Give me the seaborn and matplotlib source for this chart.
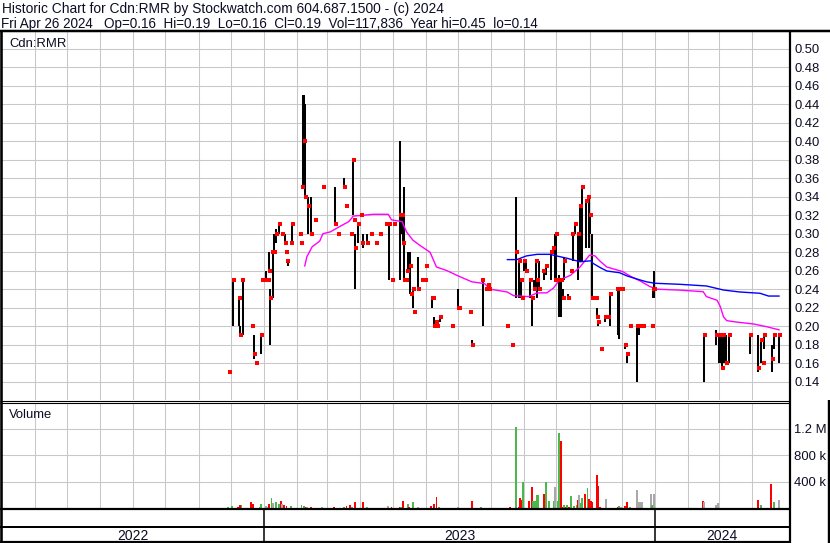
import numpy as np
import pandas as pd
import matplotlib
matplotlib.use("Agg")
import matplotlib.pyplot as plt
from matplotlib.lines import Line2D
import seaborn as sns

# ------------------------------------------------------------------ data
bar_dates = [
    "2022-11-29", "2022-12-03", "2022-12-09", "2022-12-10", "2022-12-12", "2022-12-21",
    "2022-12-23", "2022-12-25", "2022-12-29", "2022-12-30", "2023-01-03", "2023-01-05",
    "2023-01-06", "2023-01-07", "2023-01-09", "2023-01-10", "2023-01-12", "2023-01-15",
    "2023-01-18", "2023-01-21", "2023-01-22", "2023-01-23", "2023-01-26", "2023-01-27",
    "2023-02-04", "2023-02-05", "2023-02-06", "2023-02-07", "2023-02-08", "2023-02-11",
    "2023-02-14", "2023-02-18", "2023-02-25", "2023-03-08", "2023-03-11", "2023-03-17",
    "2023-03-19", "2023-03-23", "2023-03-25", "2023-03-26", "2023-03-27", "2023-03-30",
    "2023-04-02", "2023-04-03", "2023-04-07", "2023-04-11", "2023-04-16", "2023-04-19",
    "2023-04-25", "2023-04-28", "2023-05-01", "2023-05-02", "2023-05-08", "2023-05-10",
    "2023-05-11", "2023-05-12", "2023-05-14", "2023-05-15", "2023-05-17", "2023-05-18",
    "2023-05-20", "2023-05-21", "2023-05-25", "2023-05-29", "2023-05-31", "2023-06-01",
    "2023-06-07", "2023-06-08", "2023-06-09", "2023-06-11", "2023-06-12", "2023-06-14",
    "2023-06-26", "2023-07-01", "2023-07-02", "2023-07-12", "2023-07-14", "2023-07-24",
    "2023-07-27", "2023-07-29", "2023-07-30", "2023-08-16", "2023-08-21", "2023-08-24",
    "2023-08-27", "2023-08-29", "2023-08-30", "2023-09-01", "2023-09-03", "2023-09-06",
    "2023-09-08", "2023-09-10", "2023-09-12", "2023-09-13", "2023-09-15", "2023-09-19",
    "2023-09-21", "2023-09-26", "2023-09-28", "2023-09-30", "2023-10-01", "2023-10-03",
    "2023-10-05", "2023-10-07", "2023-10-08", "2023-10-12", "2023-10-15", "2023-10-16",
    "2023-10-18", "2023-10-21", "2023-10-23", "2023-10-25", "2023-10-29", "2023-10-31",
    "2023-11-01", "2023-11-03", "2023-11-07", "2023-11-08", "2023-11-09", "2023-11-12",
    "2023-11-15", "2023-11-16", "2023-11-18", "2023-11-20", "2023-11-27", "2023-11-28",
    "2023-11-29", "2023-12-01", "2023-12-04", "2023-12-06", "2023-12-09", "2023-12-15",
    "2023-12-17", "2023-12-19", "2023-12-21", "2023-12-29", "2023-12-30", "2023-12-31",
    "2024-02-16", "2024-02-27", "2024-03-01", "2024-03-03", "2024-03-04", "2024-03-05",
    "2024-03-07", "2024-03-10", "2024-03-30", "2024-04-06", "2024-04-09", "2024-04-11",
    "2024-04-12", "2024-04-19", "2024-04-21", "2024-04-26",
]
bar_high = [
    0.15, 0.25, 0.23, 0.20, 0.25, 0.20, 0.19, 0.16, 0.19, 0.25, 0.26, 0.25,
    0.28, 0.24, 0.28, 0.30, 0.305, 0.31, 0.30, 0.30, 0.28, 0.27, 0.29, 0.31,
    0.30, 0.29, 0.45, 0.45, 0.44, 0.34, 0.34, 0.315, 0.35, 0.35, 0.30, 0.36,
    0.33, 0.30, 0.38, 0.315, 0.30, 0.31, 0.32, 0.30, 0.30, 0.30, 0.29, 0.30,
    0.31, 0.31, 0.25, 0.31, 0.40, 0.32, 0.30, 0.35, 0.25, 0.28, 0.28, 0.235,
    0.24, 0.215, 0.275, 0.25, 0.25, 0.265, 0.23, 0.23, 0.21, 0.205, 0.20, 0.21,
    0.20, 0.24, 0.22, 0.215, 0.185, 0.25, 0.24, 0.245, 0.24, 0.20, 0.18, 0.34,
    0.27, 0.25, 0.23, 0.27, 0.27, 0.25, 0.23, 0.25, 0.27, 0.25, 0.27, 0.26,
    0.265, 0.28, 0.285, 0.30, 0.30, 0.255, 0.25, 0.24, 0.275, 0.235, 0.26, 0.30,
    0.31, 0.30, 0.33, 0.35, 0.335, 0.34, 0.32, 0.30, 0.23, 0.22, 0.205, 0.175,
    0.21, 0.21, 0.21, 0.235, 0.24, 0.24, 0.24, 0.24, 0.18, 0.17, 0.20, 0.20,
    0.20, 0.20, 0.20, 0.20, 0.24, 0.26, 0.19, 0.196, 0.19, 0.19, 0.19, 0.19,
    0.19, 0.19, 0.19, 0.19, 0.185, 0.16, 0.19, 0.18, 0.19, 0.19,
]
bar_low = [
    0.15, 0.20, 0.20, 0.19, 0.19, 0.20, 0.165, 0.16, 0.17, 0.25, 0.25, 0.25,
    0.26, 0.18, 0.23, 0.28, 0.29, 0.30, 0.30, 0.29, 0.28, 0.265, 0.29, 0.29,
    0.30, 0.29, 0.35, 0.39, 0.34, 0.30, 0.30, 0.315, 0.35, 0.31, 0.30, 0.35,
    0.33, 0.30, 0.32, 0.315, 0.24, 0.29, 0.32, 0.285, 0.29, 0.30, 0.29, 0.30,
    0.31, 0.25, 0.25, 0.31, 0.25, 0.30, 0.29, 0.25, 0.25, 0.26, 0.235, 0.235,
    0.22, 0.215, 0.24, 0.25, 0.25, 0.265, 0.22, 0.23, 0.20, 0.205, 0.20, 0.205,
    0.20, 0.22, 0.22, 0.215, 0.18, 0.20, 0.24, 0.245, 0.24, 0.20, 0.18, 0.23,
    0.23, 0.23, 0.23, 0.26, 0.26, 0.23, 0.20, 0.24, 0.24, 0.23, 0.24, 0.25,
    0.255, 0.25, 0.285, 0.25, 0.25, 0.21, 0.21, 0.23, 0.25, 0.23, 0.26, 0.27,
    0.30, 0.25, 0.27, 0.27, 0.285, 0.285, 0.30, 0.23, 0.23, 0.21, 0.20, 0.175,
    0.205, 0.21, 0.21, 0.20, 0.19, 0.186, 0.24, 0.24, 0.175, 0.16, 0.20, 0.14,
    0.19, 0.20, 0.20, 0.20, 0.23, 0.23, 0.14, 0.18, 0.16, 0.16, 0.155, 0.16,
    0.16, 0.16, 0.17, 0.15, 0.16, 0.16, 0.175, 0.15, 0.175, 0.16,
]
bar_close = [
    0.15, 0.25, 0.23, 0.19, 0.25, 0.20, 0.17, 0.16, 0.19, 0.25, 0.25, 0.25,
    0.26, 0.23, 0.28, 0.28, 0.30, 0.31, 0.30, 0.29, 0.28, 0.27, 0.29, 0.31,
    0.30, 0.29, 0.35, 0.40, 0.34, 0.33, 0.30, 0.315, 0.35, 0.31, 0.30, 0.35,
    0.33, 0.30, 0.38, 0.315, 0.285, 0.31, 0.32, 0.29, 0.29, 0.30, 0.29, 0.30,
    0.31, 0.31, 0.25, 0.31, 0.32, 0.32, 0.29, 0.25, 0.25, 0.26, 0.265, 0.235,
    0.24, 0.215, 0.24, 0.25, 0.25, 0.265, 0.23, 0.23, 0.20, 0.205, 0.20, 0.21,
    0.20, 0.22, 0.22, 0.215, 0.18, 0.25, 0.24, 0.245, 0.24, 0.20, 0.18, 0.28,
    0.27, 0.25, 0.23, 0.27, 0.26, 0.25, 0.23, 0.24, 0.27, 0.25, 0.24, 0.26,
    0.265, 0.28, 0.285, 0.25, 0.30, 0.25, 0.25, 0.23, 0.27, 0.23, 0.26, 0.30,
    0.31, 0.30, 0.33, 0.35, 0.335, 0.34, 0.32, 0.23, 0.23, 0.21, 0.205, 0.175,
    0.21, 0.21, 0.21, 0.235, 0.24, 0.24, 0.24, 0.24, 0.18, 0.17, 0.20, 0.20,
    0.20, 0.20, 0.20, 0.20, 0.24, 0.24, 0.19, 0.19, 0.19, 0.19, 0.155, 0.19,
    0.16, 0.19, 0.19, 0.155, 0.185, 0.16, 0.19, 0.165, 0.19, 0.19,
]

# short moving average (magenta) and long moving average (blue)
ma_short_dates = [
    "2023-02-08", "2023-02-10", "2023-02-15", "2023-02-22", "2023-02-25", "2023-03-04",
    "2023-03-13", "2023-03-21", "2023-03-24", "2023-03-25", "2023-04-04", "2023-04-13",
    "2023-04-27", "2023-04-30", "2023-05-10", "2023-05-14", "2023-05-20", "2023-05-27",
    "2023-06-05", "2023-06-11", "2023-06-21", "2023-06-30", "2023-07-14", "2023-07-26",
    "2023-07-31", "2023-08-16", "2023-08-22", "2023-09-05", "2023-09-13", "2023-09-22",
    "2023-09-28", "2023-10-04", "2023-10-14", "2023-10-23", "2023-11-01", "2023-11-06",
    "2023-11-11", "2023-11-17", "2023-12-02", "2023-12-09", "2023-12-18", "2023-12-27",
    "2024-01-03", "2024-01-24", "2024-02-15", "2024-02-18", "2024-02-28", "2024-03-02",
    "2024-03-05", "2024-03-08", "2024-03-17", "2024-04-02", "2024-04-14", "2024-04-26",
]
ma_short = [
    0.265, 0.275, 0.286, 0.292, 0.300, 0.302, 0.308, 0.313, 0.317, 0.319, 0.320, 0.321,
    0.321, 0.315, 0.313, 0.302, 0.293, 0.287, 0.280, 0.264, 0.260, 0.255, 0.248, 0.246,
    0.240, 0.237, 0.233, 0.232, 0.236, 0.236, 0.241, 0.250, 0.255, 0.264, 0.277, 0.276,
    0.270, 0.264, 0.259, 0.254, 0.249, 0.243, 0.240, 0.239, 0.2373, 0.232, 0.228, 0.221,
    0.210, 0.206, 0.2045, 0.2024, 0.1995, 0.196,
]
ma_long_dates = [
    "2023-08-16", "2023-08-25", "2023-09-03", "2023-09-13", "2023-09-25", "2023-10-01",
    "2023-10-11", "2023-10-23", "2023-11-03", "2023-11-04", "2023-11-11", "2023-11-17",
    "2023-11-29", "2023-12-06", "2023-12-16", "2023-12-24", "2024-01-01", "2024-01-24",
    "2024-02-18", "2024-03-05", "2024-03-20", "2024-04-08", "2024-04-16", "2024-04-26",
]
ma_long = [
    0.272, 0.272, 0.276, 0.2777, 0.2777, 0.276, 0.2734, 0.2697, 0.2708, 0.268, 0.2633, 0.2597,
    0.2578, 0.2543, 0.2507, 0.248, 0.2464, 0.2453, 0.2435, 0.2391, 0.237, 0.2356, 0.2326, 0.2326,
]

vol_dates = [
    "2022-11-28", "2022-12-02", "2022-12-08", "2022-12-10", "2022-12-11", "2022-12-20",
    "2022-12-22", "2022-12-24", "2022-12-28", "2022-12-29", "2023-01-03", "2023-01-04",
    "2023-01-06", "2023-01-08", "2023-01-09", "2023-01-12", "2023-01-15", "2023-01-17",
    "2023-01-18", "2023-01-20", "2023-01-22", "2023-01-24", "2023-01-26", "2023-02-03",
    "2023-02-05", "2023-02-07", "2023-02-09", "2023-02-10", "2023-02-14", "2023-02-17",
    "2023-02-24", "2023-02-25", "2023-03-07", "2023-03-10", "2023-03-17", "2023-03-19",
    "2023-03-22", "2023-03-24", "2023-03-27", "2023-03-29", "2023-03-30", "2023-04-01",
    "2023-04-03", "2023-04-07", "2023-04-10", "2023-04-15", "2023-04-18", "2023-04-24",
    "2023-04-27", "2023-04-30", "2023-05-08", "2023-05-09", "2023-05-11", "2023-05-15",
    "2023-05-16", "2023-05-18", "2023-05-20", "2023-05-25", "2023-05-28", "2023-05-31",
    "2023-06-06", "2023-06-09", "2023-06-11", "2023-06-13", "2023-06-26", "2023-07-01",
    "2023-07-14", "2023-07-23", "2023-07-26", "2023-07-29", "2023-08-15", "2023-08-19",
    "2023-08-24", "2023-08-27", "2023-08-28", "2023-08-29", "2023-08-31", "2023-09-02",
    "2023-09-05", "2023-09-08", "2023-09-09", "2023-09-11", "2023-09-13", "2023-09-14",
    "2023-09-19", "2023-09-21", "2023-09-24", "2023-09-27", "2023-09-29", "2023-09-30",
    "2023-10-02", "2023-10-03", "2023-10-05", "2023-10-07", "2023-10-08", "2023-10-10",
    "2023-10-11", "2023-10-13", "2023-10-15", "2023-10-17", "2023-10-20", "2023-10-21",
    "2023-10-22", "2023-10-24", "2023-10-25", "2023-10-28", "2023-10-30", "2023-10-31",
    "2023-11-02", "2023-11-03", "2023-11-05", "2023-11-08", "2023-11-09", "2023-11-11",
    "2023-11-14", "2023-11-16", "2023-11-19", "2023-11-27", "2023-11-28", "2023-11-30",
    "2023-12-04", "2023-12-06", "2023-12-09", "2023-12-15", "2023-12-17", "2023-12-19",
    "2023-12-20", "2023-12-28", "2023-12-29", "2023-12-31", "2024-02-15", "2024-02-16",
    "2024-02-27", "2024-02-29", "2024-03-04", "2024-03-05", "2024-03-07", "2024-03-10",
    "2024-03-30", "2024-04-06", "2024-04-09", "2024-04-11", "2024-04-12", "2024-04-18",
    "2024-04-21", "2024-04-26",
]
vol_values = [
    25000, 35000, 25000, 45000, 50000, 95000,
    65000, 5000, 25000, 65000, 35000, 15000,
    65000, 155000, 85000, 95000, 65000, 110000,
    65000, 50000, 35000, 5000, 35000, 10000,
    50000, 35000, 25000, 20000, 25000, 10000,
    25000, 10000, 25000, 10000, 25000, 35000,
    50000, 25000, 95000, 10000, 10000, 10000,
    95000, 25000, 10000, 10000, 10000, 5000,
    35000, 25000, 25000, 25000, 110000, 65000,
    25000, 10000, 95000, 25000, 10000, 10000,
    35000, 65000, 170000, 25000, 10000, 25000,
    110000, 25000, 10000, 10000, 10000, 25000,
    1232000, 25000, 160000, 125000, 402000, 10000,
    115000, 326000, 115000, 105000, 201000, 201000,
    216000, 397000, 115000, 10000, 115000, 326000,
    115000, 1141000, 1021000, 15000, 50000, 25000,
    50000, 25000, 186000, 35000, 50000, 125000,
    201000, 85000, 160000, 216000, 311000, 145000,
    105000, 100000, 10000, 503000, 337000, 25000,
    10000, 145000, 10000, 20000, 35000, 15000,
    35000, 100000, 20000, 276000, 95000, 95000,
    95000, 216000, 50000, 216000, 110000, 95000,
    50000, 85000, 10000, 10000, 10000, 10000,
    10000, 125000, 50000, 10000, 10000, 367000,
    95000, 117836,
]
vol_dir = [
    "up", "up", "down", "down", "up", "down",
    "down", "down", "up", "up", "flat", "flat",
    "down", "up", "flat", "up", "up", "down",
    "flat", "down", "down", "up", "up", "down",
    "up", "up", "down", "flat", "down", "up",
    "flat", "flat", "down", "down", "up", "down",
    "down", "up", "down", "flat", "flat", "up",
    "down", "up", "flat", "down", "up", "up",
    "flat", "down", "down", "up", "down", "up",
    "down", "up", "up", "flat", "up", "up",
    "down", "down", "down", "up", "down", "flat",
    "down", "up", "down", "down", "down", "down",
    "up", "down", "down", "down", "up", "down",
    "down", "down", "up", "up", "up", "up",
    "down", "up", "up", "up", "up", "flat",
    "up", "up", "down", "down", "up", "down",
    "up", "down", "up", "up", "up", "down",
    "flat", "up", "up", "down", "up", "down",
    "down", "down", "flat", "down", "down", "down",
    "up", "flat", "up", "down", "up", "flat",
    "down", "down", "up", "flat", "flat", "flat",
    "flat", "flat", "up", "flat", "down", "flat",
    "flat", "flat", "flat", "down", "flat", "flat",
    "flat", "down", "up", "down", "up", "down",
    "up", "flat",
]

price_ticks = [0.14, 0.16, 0.18, 0.20, 0.22, 0.24, 0.26, 0.28, 0.30, 0.32,
               0.34, 0.36, 0.38, 0.40, 0.42, 0.44, 0.46, 0.48, 0.50]
vol_ticks = [400000, 800000, 1200000]
vol_tick_labels = ["400 k", "800 k", "1.2 M"]
year_starts = ["2023-01-01", "2024-01-01"]
year_labels = ["2022", "2023", "2024"]

title_line1 = "Historic Chart for Cdn:RMR by Stockwatch.com 604.687.1500 - (c) 2024"
title_line2 = ("Fri Apr 26 2024   Op=0.16  Hi=0.19  Lo=0.16  Cl=0.19  "
               "Vol=117,836  Year hi=0.45  lo=0.14")
symbol_label = "Cdn:RMR"
volume_label = "Volume"

# ------------------------------------------------------------------ style
sns.set_style("white")
plt.rcParams["font.family"] = ["Liberation Sans", "DejaVu Sans"]
TXT = "#0c0c24"
GRID = "#c8c8c8"
FS = 9.4
vol_palette = {"up": "#4cb84c", "down": "#ff0000", "flat": "#a8a8a8"}

W, H = 830, 543
fig = plt.figure(figsize=(W / 100, H / 100), dpi=100)
fig.patch.set_facecolor("white")


def fx(px):
    return px / W


def fy(py):
    return 1 - py / H


def pxline(x0, y0, x1, y1, lw_px):
    fig.add_artist(Line2D([fx(x0), fx(x1)], [fy(y0), fy(y1)], transform=fig.transFigure,
                          color="black", lw=lw_px * 0.72, solid_capstyle="butt"))


X0, X1 = 2, 789
x_left = pd.Timestamp("2022-05-01 09:36")
x_right = pd.Timestamp("2024-05-05 02:24")
month_lines = pd.date_range("2022-06-01", "2024-04-01", freq="MS")

ax_p = fig.add_axes([fx(X0), fy(400), fx(X1) - fx(X0), fy(32) - fy(400)])
ax_v = fig.add_axes([fx(X0), fy(509), fx(X1) - fx(X0), fy(402.5) - fy(509)])
ax_d = fig.add_axes([fx(X0), fy(542), fx(X1) - fx(X0), fy(509) - fy(542)])

for ax in (ax_p, ax_v, ax_d):
    ax.set_facecolor("white")
    for s in ax.spines.values():
        s.set_visible(False)
    ax.set_xlim(x_left, x_right)
    ax.set_axisbelow(True)

# ------------------------------------------------------------------ price panel
bd = pd.to_datetime(bar_dates)
ax_p.vlines(bd, bar_low, bar_high, color="black", lw=1.45, zorder=3)
sns.lineplot(x=pd.to_datetime(ma_short_dates), y=ma_short, ax=ax_p, color="#ff00ff",
             lw=1.0, estimator=None, sort=False, zorder=4)
sns.lineplot(x=pd.to_datetime(ma_long_dates), y=ma_long, ax=ax_p, color="#0000ff",
             lw=1.0, estimator=None, sort=False, zorder=4)
sns.scatterplot(x=bd + pd.Timedelta(hours=20), y=bar_close, ax=ax_p, marker="s", s=5.5,
                color="#ff0000", linewidth=0, zorder=5)

ax_p.set_xlim(x_left, x_right)
ax_p.set_ylim(0.1202, 0.5181)
ax_p.set_xticks(month_lines)
ax_p.set_xticklabels([])
ax_p.set_yticks(price_ticks)
ax_p.set_yticklabels([f"{t:.2f}" for t in price_ticks])
ax_p.yaxis.tick_right()
ax_p.tick_params(axis="both", length=0)
ax_p.tick_params(axis="y", pad=3.6, labelsize=FS, labelcolor=TXT)
ax_p.grid(True, color=GRID, lw=0.75)
ax_p.set_xlabel("")
ax_p.set_ylabel("")
ax_p.text(7 / (X1 - X0), (400 - 46.7) / 368, symbol_label,
          transform=ax_p.transAxes, fontsize=FS, color=TXT, va="baseline", ha="left")

# ------------------------------------------------------------------ volume panel
vd = pd.to_datetime(vol_dates)
vcol = [vol_palette[d] for d in vol_dir]
v_bottom = -10600
ax_v.bar(vd, np.array(vol_values) - v_bottom, bottom=v_bottom, width=1.8, color=vcol,
         linewidth=0, align="center", zorder=3)
ax_v.set_xlim(x_left, x_right)
ax_v.set_ylim(v_bottom, 1596500)
ax_v.set_xticks(month_lines)
ax_v.set_xticklabels([])
ax_v.set_yticks(vol_ticks)
ax_v.set_yticklabels(vol_tick_labels)
ax_v.yaxis.tick_right()
ax_v.tick_params(axis="both", length=0)
ax_v.tick_params(axis="y", pad=3.6, labelsize=FS, labelcolor=TXT)
ax_v.grid(True, color=GRID, lw=0.75)
ax_v.text(7 / (X1 - X0), (509 - 417.7) / 106.5, volume_label, transform=ax_v.transAxes,
          fontsize=FS, color=TXT, va="baseline", ha="left")

# ------------------------------------------------------------------ year row
ax_d.set_xticks([])
ax_d.set_yticks([])
ax_d.set_ylim(0, 1)
ys = pd.to_datetime(year_starts)
ax_d.vlines(ys, 0, 1, color="black", lw=1.1)
edges = [x_left] + list(ys) + [x_right]
for lab, a, b in zip(year_labels, edges[:-1], edges[1:]):
    ax_d.text(a + (b - a) / 2, (542 - 539.8) / 33, lab, ha="center", va="baseline",
              fontsize=10.0, color=TXT)

# ------------------------------------------------------------------ frame
pxline(0, 31.2, W, 31.2, 2.5)          # under header
pxline(1.2, 30, 1.2, H, 2.6)           # left border
pxline(789.8, 30, 789.8, 542.5, 2.2)   # right edge of plot area
pxline(0, 400.5, 789.8, 400.5, 1.1)    # double separator
pxline(0, 402.6, 789.8, 402.6, 1.1)
pxline(0, 509.3, 789.8, 509.3, 2.2)    # volume base
pxline(0, 526.5, 789.8, 526.5, 2.0)
pxline(0, 541.8, 789.8, 541.8, 2.2)
pxline(828.6, 400, 828.6, H, 2.4)      # right border (lower part)

# ------------------------------------------------------------------ header text
fig.text(fx(1.5), fy(13.4), title_line1, fontsize=9.9, color=TXT, va="baseline", ha="left")
fig.text(fx(1.0), fy(28.0), title_line2, fontsize=9.75, color=TXT, va="baseline", ha="left")

fig.savefig("out.png", dpi=100, facecolor="white")
